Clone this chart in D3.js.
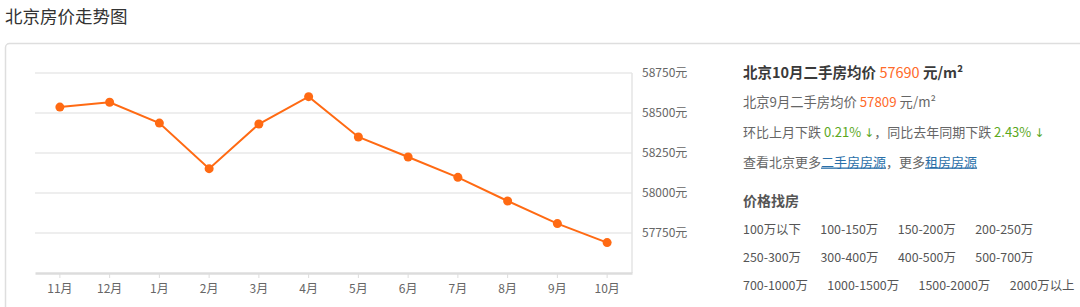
<!DOCTYPE html>
<html><head><meta charset="utf-8">
<script src="https://cdn.jsdelivr.net/npm/d3@7"></script>
<style>
html,body{margin:0;padding:0;background:#fff;overflow:hidden;}
svg{display:block;}
</style></head>
<body>
<svg id="c" width="1080" height="307"></svg>
<script>
const months = ["11月","12月","1月","2月","3月","4月","5月","6月","7月","8月","9月","10月"];
const prices = [58537, 58567, 58437, 58152, 58431, 58602, 58350, 58225, 58098, 57950, 57809, 57690];
const yTicks = [57500, 57750, 58000, 58250, 58500, 58750];
const title = "北京房价走势图";
const priceRanges = [
  ["100万以下","100-150万","150-200万","200-250万"],
  ["250-300万","300-400万","400-500万","500-700万"],
  ["700-1000万","1000-1500万","1500-2000万","2000万以上"]
];

const FONT = "'Noto Sans CJK SC','Noto Sans',sans-serif";
const svg = d3.select("#c").style("font-family", FONT);

// title
svg.append("text").attr("x",5).attr("y",23).attr("font-size",17.5).attr("fill","#333").text(title);

// panel
svg.append("rect").attr("x",5.5).attr("y",43.5).attr("width",1100).attr("height",300).attr("rx",4)
  .attr("fill","#fff").attr("stroke","#dedede").attr("stroke-width",1.5);

const x = d3.scaleBand().domain(months).range([35,632]);
const y = d3.scaleLinear().domain([57500,58750]).range([273,73]);

// gridlines
svg.append("g").selectAll("line").data(yTicks.slice(1)).join("line")
  .attr("x1",35).attr("x2",632).attr("y1",d=>y(d)).attr("y2",d=>y(d))
  .attr("stroke","#e8e8e8").attr("stroke-width",1.5);
// right vertical
svg.append("line").attr("x1",632).attr("x2",632).attr("y1",y(58750)).attr("y2",y(57500))
  .attr("stroke","#e4e4e4").attr("stroke-width",1.5);

// y axis labels (right)
const yAxis = d3.axisRight(y).tickValues(yTicks.slice(1)).tickSize(0).tickPadding(10).tickFormat(d=>d+"元");
const gy = svg.append("g").attr("transform","translate(632,0)").call(yAxis);
gy.select(".domain").remove();
gy.selectAll("text").attr("font-size",12).attr("fill","#666").attr("font-family",FONT);

// x axis
const xAxis = d3.axisBottom(x).tickSize(5).tickPadding(6).tickSizeOuter(0);
const gx = svg.append("g").attr("transform","translate(0,273)").call(xAxis);
gx.select(".domain").attr("stroke","#dcdcdc").attr("stroke-width",2.5);
gx.selectAll(".tick line").attr("stroke","#dcdcdc").attr("stroke-width",1);
gx.selectAll("text").attr("font-size",12).attr("fill","#666").attr("font-family",FONT);

// line
const line = d3.line().x((d,i)=>x(months[i])+x.bandwidth()/2).y(d=>y(d));
svg.append("path").datum(prices).attr("d",line).attr("fill","none").attr("stroke","#ff6a13").attr("stroke-width",2);
svg.append("g").selectAll("circle").data(prices).join("circle")
  .attr("cx",(d,i)=>x(months[i])+x.bandwidth()/2).attr("cy",d=>y(d)).attr("r",4.5).attr("fill","#ff6a13");

// info panel
const L = 743;
const ARROW = "'DejaVu Sans',sans-serif";
const t1 = svg.append("text").attr("x",L).attr("y",78).attr("font-size",14.5).attr("font-weight","bold").attr("fill","#3a3a3a");
t1.append("tspan").text("北京10月二手房均价 ");
t1.append("tspan").attr("fill","#ff6a2a").attr("font-weight","normal").text(prices[11]);
t1.append("tspan").text(" 元/m²");

const t2 = svg.append("text").attr("x",L).attr("y",107).attr("font-size",13.3).attr("fill","#666");
t2.append("tspan").text("北京9月二手房均价 ");
t2.append("tspan").attr("fill","#ff6a2a").text(prices[10]);
t2.append("tspan").text(" 元/m²");

const mom = ((prices[10]-prices[11])/prices[10]*100).toFixed(2);
const t3 = svg.append("text").attr("x",L).attr("y",136.5).attr("font-size",13).attr("fill","#666");
t3.append("tspan").text("环比上月下跌 ");
t3.append("tspan").attr("fill","#5ba81d").text(mom+"% ");
t3.append("tspan").attr("fill","#5ba81d").attr("font-family",ARROW).attr("font-size",12).text("↓");
t3.append("tspan").text("，同比去年同期下跌 ");
t3.append("tspan").attr("fill","#5ba81d").text("2.43% ");
t3.append("tspan").attr("fill","#5ba81d").attr("font-family",ARROW).attr("font-size",12).text("↓");

const t4 = svg.append("text").attr("x",L).attr("y",166.5).attr("font-size",13).attr("fill","#666");
t4.append("tspan").text("查看北京更多");
t4.append("tspan").attr("fill","#2a6fa8").attr("text-decoration","underline").text("二手房房源");
t4.append("tspan").text("，更多");
t4.append("tspan").attr("fill","#2a6fa8").attr("text-decoration","underline").text("租房房源");

svg.append("text").attr("x",L).attr("y",206).attr("font-size",14).attr("font-weight","bold").attr("fill","#555").text("价格找房");

const rowsY = [234, 261.5, 289.5];
priceRanges.forEach((row,ri)=>{
  let cx = L;
  row.forEach(label=>{
    const t = svg.append("text").attr("x",cx).attr("y",rowsY[ri]).attr("font-size",12.4).attr("fill","#555").text(label);
    cx += t.node().getComputedTextLength() + 19.5;
  });
});
</script>
</body></html>
